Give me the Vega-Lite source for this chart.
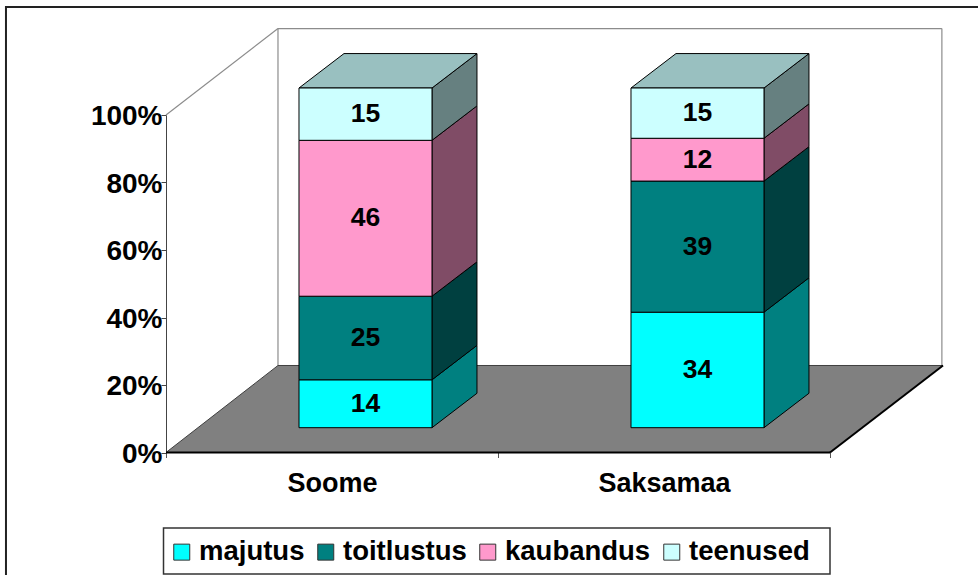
{"$schema":"https://vega.github.io/schema/vega-lite/v6.json","width":664,"height":337.5,"autosize":{"type":"none"},"padding":{"left":166,"top":115,"right":148,"bottom":122.5},"background":"white","view":{"stroke":null},
"datasets":{"bars":[
{"country":"Soome","category":"majutus","start":0,"end":14.1,"value":14},
{"country":"Soome","category":"toitlustus","start":14.1,"end":38.7,"value":25},
{"country":"Soome","category":"kaubandus","start":38.7,"end":84.6,"value":46},
{"country":"Soome","category":"teenused","start":84.6,"end":100,"value":15},
{"country":"Saksamaa","category":"majutus","start":0,"end":34,"value":34},
{"country":"Saksamaa","category":"toitlustus","start":34,"end":72.6,"value":39},
{"country":"Saksamaa","category":"kaubandus","start":72.6,"end":85.2,"value":12},
{"country":"Saksamaa","category":"teenused","start":85.2,"end":100,"value":15}],
"frame":[{"x":-0.482,"x2":2.46,"y":-38,"y2":132}],
"legendbox":[{"x":-0.0075,"x2":2,"y":-36,"y2":-22.37}],
"floor":[{"y":0,"x":0,"x2":2},{"y":25.78,"x":0.3373,"x2":2.3404}],
"walls":[
{"x":0,"y":100,"x2":0.3373,"y2":125.6},
{"x":0.3373,"y":25.78,"x2":0.3373,"y2":125.6},
{"x":0.3373,"y":125.6,"x2":2.337,"y2":125.6},
{"x":2.337,"y":25.78,"x2":2.337,"y2":125.6}],
"flooredges":[
{"x":0,"y":0,"x2":0.3373,"y2":25.78},
{"x":0.3373,"y":25.78,"x2":2.3404,"y2":25.78}],
"edges":[{"x":0,"y":0,"x2":2,"y2":0},{"x":2,"y":0,"x2":2.3404,"y2":25.78}]},
"layer":[
{"data":{"name":"frame"},"mark":{"type":"rect","fill":null,"stroke":"#222222","strokeWidth":2},"encoding":{"x":{"field":"x","type":"quantitative","scale":{"domain":[0,2],"nice":false,"zero":false},"axis":null},"x2":{"field":"x2"},"y":{"field":"y","type":"quantitative","scale":{"domain":[0,100],"nice":false,"zero":false},"axis":{"values":[0,20,40,60,80,100],"labelExpr":"datum.value + '%'","title":null,"grid":false,"tickSize":5,"tickColor":"#444444","domainColor":"#444444","domainWidth":1,"labelFont":"Liberation Sans","labelFontWeight":"bold","labelFontSize":28,"labelColor":"black","labelPadding":-1,"labelOffset":1.5}},"y2":{"field":"y2"}}},
{"data":{"name":"legendbox"},"mark":{"type":"rect","fill":null,"stroke":"#333333","strokeWidth":1.5},"encoding":{"x":{"field":"x","type":"quantitative","scale":{"domain":[0,2],"nice":false,"zero":false},"axis":null},"x2":{"field":"x2"},"y":{"field":"y","type":"quantitative","scale":{"domain":[0,100],"nice":false,"zero":false},"axis":{"title":null}},"y2":{"field":"y2"}}},
{"data":{"name":"floor"},"mark":{"type":"area","orient":"horizontal","fill":"#808080"},"encoding":{"x":{"field":"x","type":"quantitative","scale":{"domain":[0,2],"nice":false,"zero":false},"axis":{"orient":"bottom","values":[0,1,2],"labels":false,"title":null,"grid":false,"tickSize":5,"tickColor":"#555555","domain":false}},"x2":{"field":"x2"},"y":{"field":"y","type":"quantitative","scale":{"domain":[0,100],"nice":false,"zero":false},"axis":{"title":null}}}},
{"data":{"name":"walls"},"mark":{"type":"rule","color":"#8c8c8c","strokeWidth":1.2},"encoding":{"x":{"field":"x","type":"quantitative","scale":{"domain":[0,2],"nice":false,"zero":false},"axis":null},"x2":{"field":"x2"},"y":{"field":"y","type":"quantitative","scale":{"domain":[0,100],"nice":false,"zero":false},"axis":{"title":null}},"y2":{"field":"y2"}}},
{"data":{"name":"flooredges"},"mark":{"type":"rule","color":"#404040","strokeWidth":1},"encoding":{"x":{"field":"x","type":"quantitative","scale":{"domain":[0,2],"nice":false,"zero":false},"axis":null},"x2":{"field":"x2"},"y":{"field":"y","type":"quantitative","scale":{"domain":[0,100],"nice":false,"zero":false},"axis":{"title":null}},"y2":{"field":"y2"}}},
{"data":{"name":"edges"},"mark":{"type":"rule","color":"black","strokeWidth":2},"encoding":{"x":{"field":"x","type":"quantitative","scale":{"domain":[0,2],"nice":false,"zero":false},"axis":null},"x2":{"field":"x2"},"y":{"field":"y","type":"quantitative","scale":{"domain":[0,100],"nice":false,"zero":false},"axis":{"title":null}},"y2":{"field":"y2"}}},
{"data":{"name":"bars"},"transform":[{"calculate":"datum.country === 'Soome' ? 0 : 1","as":"pos"},{"calculate":"[0, 1]","as":"k"},{"flatten":["k"]},{"calculate":"datum.pos + 0.8012 + datum.k * 0.1355","as":"px"},{"calculate":"7.35 + datum.start * 1.0065 + datum.k * 10.2","as":"py"},{"calculate":"7.35 + datum.end * 1.0065 + datum.k * 10.2","as":"py2"}],"mark":{"type":"area","stroke":"black","strokeWidth":1},"encoding":{"x":{"field":"px","type":"quantitative","scale":{"domain":[0,2],"nice":false,"zero":false},"axis":null},"y":{"field":"py","type":"quantitative","scale":{"domain":[0,100],"nice":false,"zero":false},"axis":{"title":null},"stack":null},"y2":{"field":"py2"},"detail":{"field":"country"},"fill":{"field":"category","type":"nominal","scale":{"domain":["teenused","kaubandus","toitlustus","majutus"],"range":["#668080","#804C66","#004040","#008080"]},"legend":null}}},
{"data":{"name":"bars"},"transform":[{"filter":"datum.category === 'teenused'"},{"calculate":"datum.country === 'Soome' ? 0 : 1","as":"pos"},{"calculate":"[0, 1]","as":"k"},{"flatten":["k"]},{"calculate":"datum.pos + 0.4006 + datum.k * 0.1355","as":"px"},{"calculate":"datum.pos + 0.8012 + datum.k * 0.1355","as":"px2"},{"calculate":"7.35 + datum.end * 1.0065 + datum.k * 10.2","as":"py"}],"mark":{"type":"area","orient":"horizontal","fill":"#99C0C0","stroke":"black","strokeWidth":1},"encoding":{"x":{"field":"px","type":"quantitative","scale":{"domain":[0,2],"nice":false,"zero":false},"axis":null},"x2":{"field":"px2"},"y":{"field":"py","type":"quantitative","scale":{"domain":[0,100],"nice":false,"zero":false},"axis":{"title":null}},"detail":{"field":"country"}}},
{"data":{"name":"bars"},"transform":[{"calculate":"datum.country === 'Soome' ? 0 : 1","as":"pos"},{"calculate":"datum.pos + 0.4006","as":"px"},{"calculate":"datum.pos + 0.8012","as":"px2"},{"calculate":"7.35 + datum.start * 1.0065","as":"py"},{"calculate":"7.35 + datum.end * 1.0065","as":"py2"}],"mark":{"type":"rect","stroke":"black","strokeWidth":1},"encoding":{"x":{"field":"px","type":"quantitative","scale":{"domain":[0,2],"nice":false,"zero":false},"axis":{"orient":"bottom","values":[0.5,1.5],"labelExpr":"datum.value === 0.5 ? 'Soome' : 'Saksamaa'","title":null,"grid":false,"ticks":false,"domain":false,"labelFont":"Liberation Sans","labelFontWeight":"bold","labelFontSize":27,"labelColor":"black","labelPadding":18}},"x2":{"field":"px2"},"y":{"field":"py","type":"quantitative","scale":{"domain":[0,100],"nice":false,"zero":false},"axis":{"title":null}},"y2":{"field":"py2"},"color":{"field":"category","type":"nominal","scale":{"domain":["majutus","toitlustus","kaubandus","teenused"],"range":["#00FFFF","#008080","#FF99CC","#CCFFFF"]},"legend":{"orient":"none","legendX":-3,"legendY":418,"direction":"horizontal","columns":4,"title":null,"symbolType":"square","symbolSize":256,"symbolStrokeColor":"#333333","symbolStrokeWidth":1,"labelFont":"Liberation Sans","labelFontWeight":"bold","labelFontSize":27.5,"labelColor":"black","labelOffset":3.5,"columnPadding":7,"padding":5,"labelLimit":300}}}},
{"data":{"name":"bars"},"transform":[{"calculate":"datum.country === 'Soome' ? 0 : 1","as":"pos"},{"calculate":"datum.pos + 0.6009","as":"px"},{"calculate":"7.35 + (datum.start + datum.end) / 2 * 1.0065","as":"py"}],"mark":{"type":"text","font":"Liberation Sans","fontWeight":"bold","fontSize":26.5,"color":"black","baseline":"middle","align":"center"},"encoding":{"x":{"field":"px","type":"quantitative","scale":{"domain":[0,2],"nice":false,"zero":false},"axis":null},"y":{"field":"py","type":"quantitative","scale":{"domain":[0,100],"nice":false,"zero":false},"axis":{"title":null}},"text":{"field":"value","type":"quantitative"}}}
],
"resolve":{"axis":{"x":"independent"}}}
